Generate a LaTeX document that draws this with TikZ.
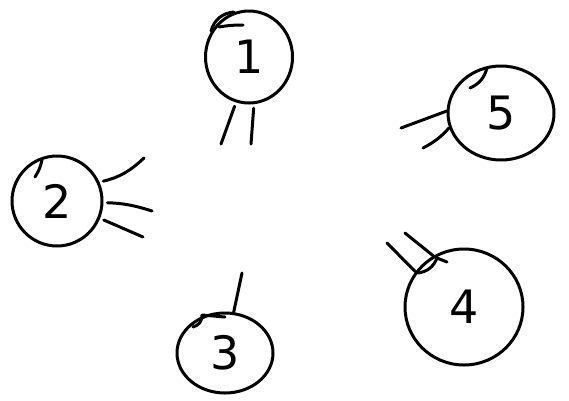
\documentclass[tikz,border=0pt]{standalone}
\usepackage{fontspec}
\setmainfont{DejaVu Sans}
\usetikzlibrary{shapes.geometric}
\begin{document}
\begin{tikzpicture}[x=1pt,y=-1pt,
  ink/.style={line width=3pt,line cap=round,line join=round},
  vtx/.style={ink,draw,ellipse,inner sep=0pt,font=\fontsize{46}{46}\selectfont},
  stub/.style={ink,shorten <=4pt}]
\useasboundingbox (0,0) rectangle (569,400);
% vertices
\node[vtx,minimum width=87pt,minimum height=92pt] (n1) at (249,57) {1};
\node[vtx,minimum width=90pt,minimum height=90pt] (n2) at (57,201) {2};
\node[vtx,minimum width=96pt,minimum height=80pt] (n3) at (225,353) {3};
\node[vtx,minimum width=118pt,minimum height=116pt] (n4) at (464,307) {4};
\node[vtx,minimum width=106pt,minimum height=94pt] (n5) at (501,113) {5};
% free ends of stubs
\coordinate (e1a) at (221,144);
\coordinate (e1b) at (251,144);
\coordinate (e2a) at (144,158);
\coordinate (e2b) at (152,211);
\coordinate (e2c) at (143,237);
\coordinate (e3a) at (242,273);
\coordinate (e4a) at (387,243);
\coordinate (e4b) at (405,233);
\coordinate (e5a) at (401,128);
\coordinate (e5b) at (423,148);
% stubs
\draw[stub] (n1.-106) -- (e1a);
\draw[stub] (n1.-84) -- (e1b);
\draw[stub] (n2.24) to[bend right=15] (e2a);
\draw[stub] (n2.-2) to[bend left=8] (e2b);
\draw[stub] (n2.-22) -- (e2c);
\draw[stub,shorten <=0pt] (n3.78) -- (e3a);
\draw[stub,shorten <=0pt] (n4.144) -- (e4a);
\draw[stub,shorten <=0pt] (n4.121) -- (e4b);
\draw[stub,shorten <=0pt] (n5.178) -- (e5a);
\draw[stub,shorten <=0pt] (n5.196) to[bend left=10] (e5b);
% sketch marks
\draw[ink] (211,31) to[bend left=35] (234,12);
\draw[ink] (219,27) to[bend left=5] (243,25);
\draw[ink] (35,177) to[bend right=10] (42,160);
\draw[ink] (193,327) to[bend right=40] (202,315) -- (225,317);
\draw[ink] (418,273) to[bend right=30] (437,258) -- (447,262);
\draw[ink] (470,88) to[bend right=25] (487,68);
\end{tikzpicture}
\end{document}
